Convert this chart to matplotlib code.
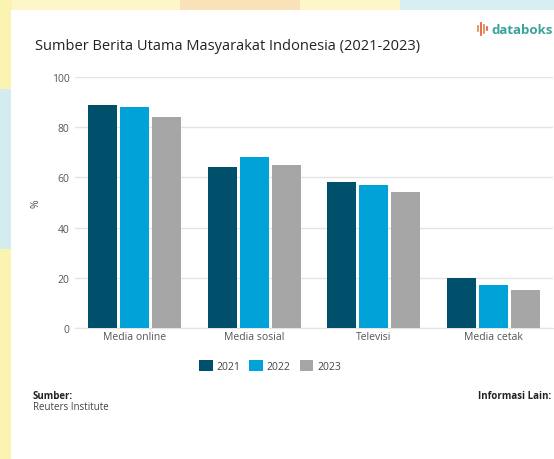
import matplotlib
matplotlib.use("Agg")
import matplotlib.pyplot as plt
import numpy as np
from matplotlib.patches import Rectangle
from matplotlib.lines import Line2D

categories = ["Media online", "Media sosial", "Televisi", "Media cetak"]
years = ["2021", "2022", "2023"]
values_2021 = [89, 64, 58, 20]
values_2022 = [88, 68, 57, 17]
values_2023 = [84, 65, 54, 15]
colors = ["#00506b", "#00a2d8", "#a6a6a6"]
y_ticks = [0, 20, 40, 60, 80, 100]

plt.rcParams['font.family'] = ['Open Sans', 'DejaVu Sans']

W, H = 554, 460
fig = plt.figure(figsize=(W / 100, H / 100), dpi=100)
fig.patch.set_facecolor("#d4ecef")

# decorative background outside card
def frect(x, y, w, h, c, z=0):
    fig.patches.append(Rectangle((x / W, 1 - (y + h) / H), w / W, h / H,
                                 transform=fig.transFigure, facecolor=c,
                                 edgecolor="none", zorder=z))
frect(0, 0, W, 12, "#fdf6c8")
frect(0, 0, 12, 90, "#fbf3b0")
frect(0, 250, 12, 210, "#fbf3b0")
frect(180, 0, 120, 12, "#f9e2b8")
frect(400, 0, 154, 12, "#d8eef0")
# white card
frect(11, 11, W - 11, H - 11, "white", 1)

ax = fig.add_axes([75 / W, 1 - 329 / H, (553 - 75) / W, (329 - 78) / H])
ax.set_zorder(2)
x = np.arange(len(categories))
bw = 0.243
step = 0.267
for i, (vals, yr) in enumerate(zip([values_2021, values_2022, values_2023], years)):
    ax.bar(x + (i - 1) * step, vals, width=bw, color=colors[i], label=yr, zorder=3)

ax.set_xlim(-0.5, len(categories) - 0.5)
ax.set_ylim(0, 100)
ax.set_yticks(y_ticks)
ax.set_xticks(x)
ax.set_xticklabels(categories)
ax.grid(axis="y", color="#e4e4e4", linewidth=1, zorder=0)
for s in ["top", "right", "left"]:
    ax.spines[s].set_visible(False)
ax.spines["bottom"].set_color("#e4e4e4")
ax.tick_params(axis="both", length=0, labelsize=7.5, labelcolor="#555555")
ax.tick_params(axis="y", pad=4)
ax.tick_params(axis="x", pad=2)
ax.set_ylabel("%", fontsize=7.5, color="#555555", labelpad=7)
ax.set_facecolor("none")

leg = fig.legend(loc="center", bbox_to_anchor=(270 / W, 1 - 367 / H), ncol=3,
                 frameon=False, fontsize=7.5, handlelength=1.3, handleheight=1.3,
                 columnspacing=0.9, handletextpad=0.35)
for t in leg.get_texts():
    t.set_color("#444444")

fig.text(35 / W, 1 - 47 / H, "Sumber Berita Utama Masyarakat Indonesia (2021-2023)",
         fontsize=10.5, color="#222222", va="center", ha="left", zorder=5)

fig.text(33 / W, 1 - 397 / H, "Sumber:", fontsize=7, fontweight="bold",
         color="#222222", va="center", ha="left", zorder=5)
fig.text(33 / W, 1 - 408 / H, "Reuters Institute", fontsize=7,
         color="#444444", va="center", ha="left", zorder=5)
fig.text(551 / W, 1 - 397 / H, "Informasi Lain:", fontsize=7, fontweight="bold",
         color="#222222", va="center", ha="right", zorder=5)

# logo
fig.text(553 / W, 1 - 30 / H, "databoks", fontsize=9.5, fontweight="bold",
         color="#3aa39c", va="center", ha="right", zorder=5)
for dx, y0, y1, c in [(478, 27, 32, "#e6843a"), (481, 24, 36, "#e0533a"),
                      (484, 26, 34, "#e6843a"), (487, 28, 31, "#e0533a")]:
    fig.lines.append(Line2D([dx / W, dx / W], [1 - y1 / H, 1 - y0 / H],
                            transform=fig.transFigure, color=c, linewidth=1.2,
                            zorder=5))

fig.savefig("out.png", dpi=100, facecolor=fig.get_facecolor())
